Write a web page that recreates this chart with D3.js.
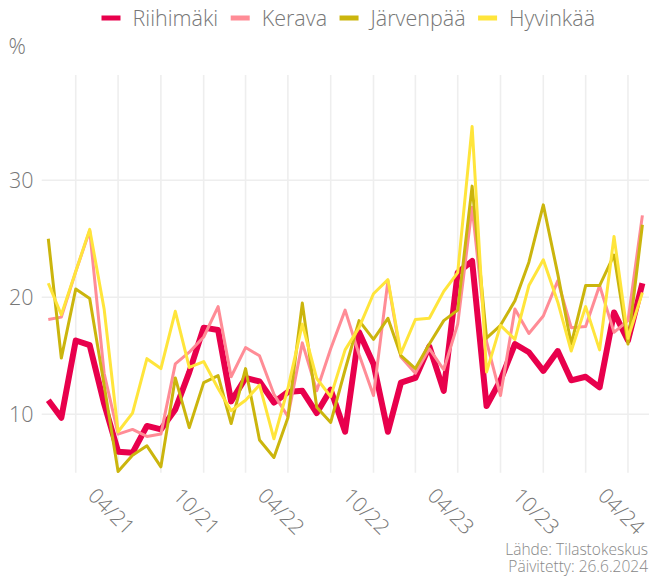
<!DOCTYPE html>
<html>
<head>
<meta charset="utf-8">
<script src="https://cdn.jsdelivr.net/npm/d3@7"></script>
<style>
  body { margin: 0; background: #fff; }
  svg text { font-family: "Open Sans", Lato, sans-serif; font-weight: 300; }
</style>
</head>
<body>
<div id="chart"></div>
<script>
// kuukaudet (x-akseli)
let months = ["2021-02","2021-03","2021-04","2021-05","2021-06","2021-07","2021-08","2021-09","2021-10","2021-11","2021-12",
  "2022-01","2022-02","2022-03","2022-04","2022-05","2022-06","2022-07","2022-08","2022-09","2022-10","2022-11","2022-12",
  "2023-01","2023-02","2023-03","2023-04","2023-05","2023-06","2023-07","2023-08","2023-09","2023-10","2023-11","2023-12",
  "2024-01","2024-02","2024-03","2024-04","2024-05","2024-06","2024-07","2024-08"];

let towns = ["Riihimäki", "Kerava", "Järvenpää", "Hyvinkää"];

let riihimaki = [11.2, 9.7, 16.3, 15.9, 10.9, 6.8, 6.7, 9.0, 8.7, 10.4, 13.6, 17.4, 17.2, 11.1, 13.1, 12.8, 11.0, 11.9, 12.0, 10.1, 12.1, 8.5,
  17.0, 14.3, 8.5, 12.7, 13.1, 15.8, 12.0, 22.1, 23.1, 10.7, 12.9, 16.0, 15.3, 13.7, 15.4, 12.9, 13.2, 12.3, 18.7, 16.3, 21.2];
let kerava = [18.1, 18.3, 22.2, 25.7, 13.5, 8.3, 8.7, 8.1, 8.3, 14.3, 15.3, 16.6, 19.2, 13.2, 15.7, 15.0, 11.7, 9.8, 16.1, 12.0, 15.6, 18.9,
  15.1, 11.6, 21.4, 14.9, 13.5, 15.6, 13.8, 17.7, 27.7, 16.2, 11.6, 19.0, 16.9, 18.4, 21.4, 17.4, 17.5, 21.0, 17.0, 18.0, 27.0];
let jarvenpaa = [25.0, 14.8, 20.7, 19.9, 12.5, 5.1, 6.5, 7.3, 5.5, 13.1, 8.85, 12.7, 13.3, 9.2, 13.9, 7.8, 6.3, 9.7, 19.5, 10.6, 9.3, 13.8,
  18.0, 16.4, 18.2, 15.0, 13.9, 16.0, 18.0, 18.9, 29.5, 16.5, 17.6, 19.7, 23.0, 27.9, 22.0, 16.0, 21.0, 21.0, 23.6, 16.0, 26.2];
let hyvinkaa = [21.2, 18.5, 22.2, 25.8, 19.0, 8.5, 10.1, 14.75, 13.9, 18.8, 14.0, 14.5, 12.2, 10.3, 11.2, 12.5, 7.9, 12.2, 17.7, 13.05, 11.5, 15.5,
  17.4, 20.3, 21.5, 15.2, 18.1, 18.2, 20.5, 22.1, 34.6, 13.6, 17.6, 16.4, 21.0, 23.2, 19.6, 15.4, 19.2, 15.5, 25.2, 16.5, 20.4];

let yTicks = [10, 20, 30];
let colors = ["#e8004c", "#ff8c96", "#cbb50d", "#ffe53b"];
let widths = [6, 3, 3, 3];

let width = 649, height = 576;
let parse = d3.timeParse("%Y-%m");
let dates = months.map(parse);
let series = [riihimaki, kerava, jarvenpaa, hyvinkaa];

let svg = d3.select("#chart").append("svg").attr("width", width).attr("height", height);

let x = d3.scaleTime().domain([dates[0], dates[dates.length - 1]]).range([48.3, 642.4]);
let y = d3.scaleLinear().domain([5, 39]).range([472.7, 75]);

let panelLeft = 41.7, panelRight = 649, panelTop = 75, panelBottom = 472.7;

// ruudukko
let vTicks = d3.timeMonth.every(3).range(x.domain()[0], d3.timeMonth.offset(x.domain()[1], 1));
svg.append("g").selectAll("line").data(vTicks).enter().append("line")
  .attr("x1", d => x(d)).attr("x2", d => x(d))
  .attr("y1", panelTop).attr("y2", panelBottom)
  .attr("stroke", "#eeeeee").attr("stroke-width", 1.6);

svg.append("g").selectAll("line").data(yTicks).enter().append("line")
  .attr("x1", panelLeft).attr("x2", panelRight)
  .attr("y1", d => y(d)).attr("y2", d => y(d))
  .attr("stroke", "#eeeeee").attr("stroke-width", 1.6);

// y-akselin tekstit
svg.append("g").selectAll("text").data(yTicks).enter().append("text")
  .attr("x", 33.5).attr("y", d => y(d))
  .attr("dy", "0.36em")
  .attr("text-anchor", "end")
  .style("font-size", "21.5px").style("fill", "#777")
  .text(d => d);

svg.append("text").attr("x", 8.5).attr("y", 54).text("%")
  .style("font-size", "21.5px").style("fill", "#777");

// x-akselin tekstit
let labelTicks = vTicks.filter(d => d.getMonth() == 3 || d.getMonth() == 9);
let fmt = d3.timeFormat("%m/%y");
svg.append("g").selectAll("text").data(labelTicks).enter().append("text")
  .attr("transform", d => "translate(" + (x(d) + 11) + ",497) rotate(45)")
  .attr("text-anchor", "start")
  .style("font-size", "21px").style("fill", "#777")
  .text(d => fmt(d));

// viivat
let line = d3.line()
  .x((d, i) => x(dates[i]))
  .y(d => y(d));

svg.append("g").selectAll("path").data(series).enter().append("path")
  .attr("d", d => line(d))
  .attr("fill", "none")
  .attr("stroke", (d, i) => colors[i])
  .attr("stroke-width", (d, i) => widths[i])
  .attr("stroke-linejoin", "round");

// selite
let legend = svg.append("g");
let lx = 101.5;
towns.forEach(function(t, i) {
  legend.append("rect").attr("x", lx).attr("y", 15.5).attr("width", 19).attr("height", 5).style("fill", colors[i]);
  let txt = legend.append("text").attr("x", lx + 31).attr("y", 18).attr("dy", "0.36em")
    .style("font-size", "21.5px").style("fill", "#777").text(t);
  lx = lx + 31 + txt.node().getComputedTextLength() + 12.5;
});

svg.append("text").attr("x", 648).attr("y", 555).attr("text-anchor", "end")
  .style("font-size", "15.5px").style("fill", "#888").text("Lähde: Tilastokeskus");
svg.append("text").attr("x", 648).attr("y", 571.5).attr("text-anchor", "end")
  .style("font-size", "15.5px").style("fill", "#888").text("Päivitetty: 26.6.2024");
</script>
</body>
</html>
